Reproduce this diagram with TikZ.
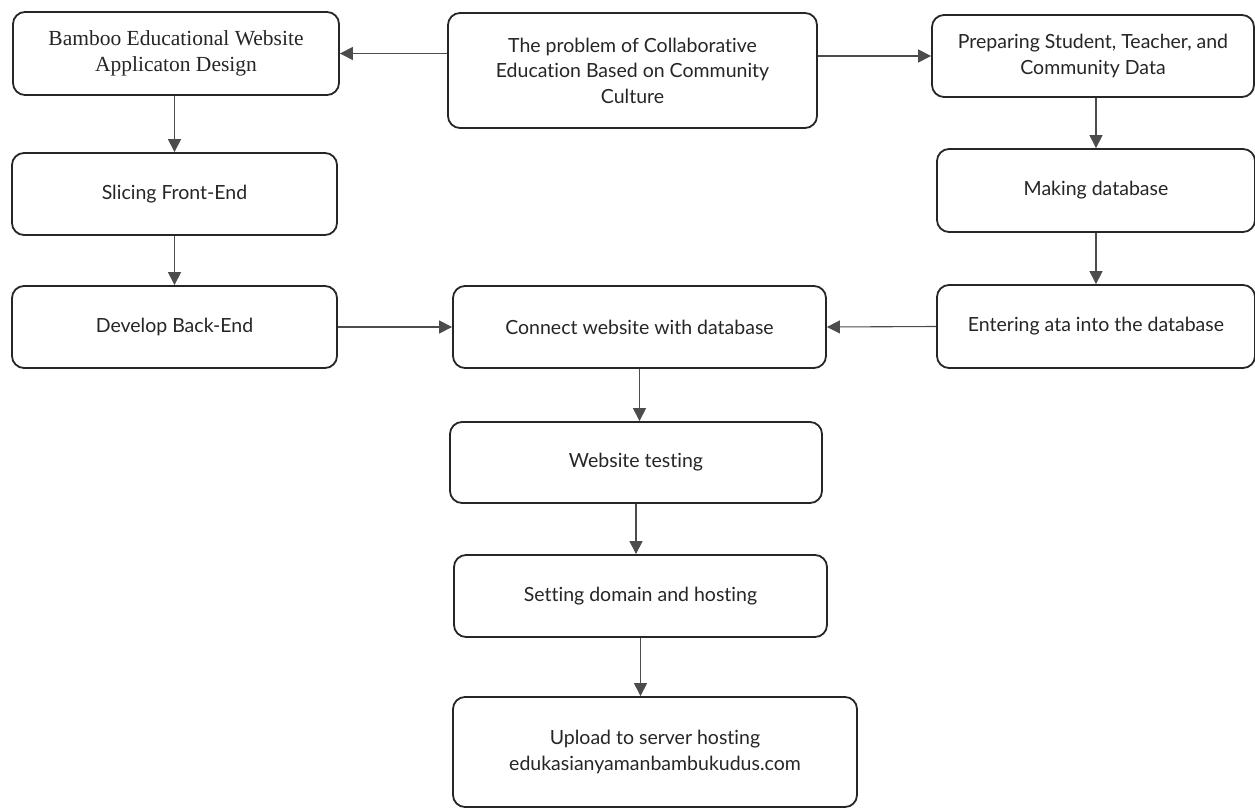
\documentclass[tikz,border=0pt]{standalone}
\usepackage{fontspec}
\setmainfont{Lato}[Ligatures=NoCommon]
\newfontfamily\serifbox{Liberation Serif}
\usepackage{tikz}
\usetikzlibrary{positioning, arrows.meta}

\begin{document}
\begin{tikzpicture}[x=1pt, y=-1pt,
        box/.style={draw=black!85, line width=1.8pt, rounded corners=12pt, fill=white,
            align=center, text=black!85, font=\fontsize{19.5}{25.5}\selectfont, inner sep=4pt},
        flow/.style={draw=black!70, line width=1.1pt, -{Triangle[length=13pt, width=13pt]}}]
    \useasboundingbox (0,0) rectangle (1255,810);

    % top row
    \node[box, minimum width=326pt, minimum height=83pt, font=\serifbox\fontsize{21.5}{26}\selectfont] (bamboo) at (176,53.5)
        {Bamboo Educational Website\\Applicaton Design};
    \node[box, minimum width=369pt, minimum height=115pt] (problem) at (632.5,70.5)
        {The problem of Collaborative\\Education Based on Community\\Culture};
    \node[box, minimum width=322pt, minimum height=82pt] (prepare) at (1093,56)
        {Preparing Student, Teacher, and\\Community Data};

    % left column
    \node[box, minimum width=325pt, minimum height=82pt] (slicing) at (174.5,194) {Slicing Front-End};
    \node[box, minimum width=325pt, minimum height=82pt] (backend) at (174.5,327) {Develop Back-End};

    % right column
    \node[box, minimum width=318pt, minimum height=83pt] (makedb) at (1096,190.5) {Making database};
    \node[box, minimum width=318pt, minimum height=83pt] (enter) at (1096,326.5) {Entering ata into the database};

    % middle column
    \node[box, minimum width=373pt, minimum height=82pt] (connect) at (639.5,327) {Connect website with database};
    \node[box, minimum width=372pt, minimum height=81pt] (testing) at (636,462.5) {Website testing};
    \node[box, minimum width=373pt, minimum height=82pt] (domain) at (640.5,596) {Setting domain and hosting};
    \node[box, minimum width=404pt, minimum height=110pt] (upload) at (655,752)
        {Upload to server hosting\\edukasianyamanbambukudus.com};

    % connectors
    \draw[flow] (problem.west |- bamboo.east) -- (bamboo.east);
    \draw[flow] (problem.east |- prepare.west) -- (prepare.west);
    \draw[flow] (bamboo.south -| slicing.north) -- (slicing.north);
    \draw[flow] (slicing.south) -- (backend.north);
    \draw[flow] (backend.east) -- (connect.west);
    \draw[flow] (makedb.north |- prepare.south) -- (makedb.north);
    \draw[flow] (makedb.south) -- (enter.north);
    \draw[flow] (enter.west) -- (connect.east);
    \draw[flow] (connect.south) -- (connect.south |- testing.north);
    \draw[flow] (testing.south) -- (testing.south |- domain.north);
    \draw[flow] (domain.south) -- (domain.south |- upload.north);
\end{tikzpicture}
\end{document}
